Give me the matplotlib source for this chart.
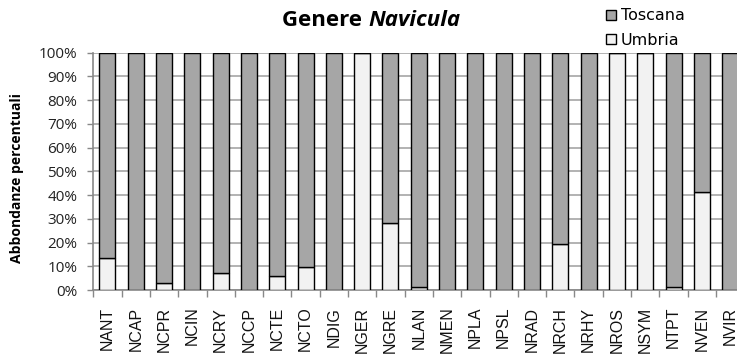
import matplotlib
matplotlib.use("Agg")
import matplotlib.pyplot as plt
import numpy as np

categories = ["NANT", "NCAP", "NCPR", "NCIN", "NCRY", "NCCP", "NCTE", "NCTO", "NDIG",
              "NGER", "NGRE", "NLAN", "NMEN", "NPLA", "NPSL", "NRAD", "NRCH", "NRHY",
              "NROS", "NSYM", "NTPT", "NVEN", "NVIR"]
umbria = [13.4, 0, 3.1, 0, 7.0, 0, 5.8, 9.8, 0,
          100, 28.4, 1.1, 0, 0, 0, 0, 19.4, 0,
          100, 100, 1.4, 41.4, 0]
toscana = [100 - u for u in umbria]
yticks = [0, 10, 20, 30, 40, 50, 60, 70, 80, 90, 100]
ytick_labels = [f"{t}%" for t in yticks]

W, H = 737, 356
fig = plt.figure(figsize=(W / 100, H / 100), dpi=100)
ax = fig.add_axes([93.3 / W, (H - 290) / H, 651 / W, (290 - 52.7) / H])

x = np.arange(len(categories))
bw = 0.565
b_u = ax.bar(x, umbria, width=bw, color="#F2F2F2", edgecolor="black", linewidth=1.0, zorder=3, label="Umbria")
b_t = ax.bar(x, toscana, bottom=umbria, width=bw, color="#A6A6A6", edgecolor="black", linewidth=1.0, zorder=3, label="Toscana")

ax.set_xlim(-0.5, len(categories) - 0.5)
ax.set_ylim(0, 100)
ax.set_yticks(yticks)
ax.set_yticklabels(ytick_labels, fontsize=11, color="#222222", family="Open Sans")
ax.yaxis.grid(True, color="#A6A6A6", linewidth=1.2, zorder=0)
ax.set_axisbelow(True)

ax.set_xticks(x)
ax.set_xticklabels(categories, rotation=90, fontsize=11.5, color="#111111", family="Liberation Sans")
ax.set_xticks(np.arange(len(categories) + 1) - 0.5, minor=True)
ax.tick_params(axis="x", which="major", length=0, pad=12)
ax.tick_params(axis="x", which="minor", length=5, color="#888888", width=1)
ax.tick_params(axis="y", length=4.5, color="#888888", width=1, pad=7)

for s in ["top", "right"]:
    ax.spines[s].set_visible(False)
ax.spines["left"].set_color("#888888")
ax.spines["bottom"].set_color("#888888")
ax.spines["left"].set_linewidth(1.2)
ax.spines["bottom"].set_linewidth(1.2)

fig.text(17 / W, 1 - 178 / H, "Abbondanze percentuali", rotation=90, ha="center", va="center",
         fontsize=10, fontweight="bold", family="Open Sans")

fig.text(368 / W, 1 - 20 / H, "Genere ", ha="right", va="center", fontsize=16, fontweight="bold", family="Open Sans")
fig.text(368 / W, 1 - 20 / H, "Navicula", ha="left", va="center", fontsize=16, fontweight="bold", style="italic", family="Open Sans")

leg = fig.legend(handles=[b_t, b_u], labels=["Toscana", "Umbria"], loc="upper left",
                 bbox_to_anchor=(592 / W, 1 + 6 / H), frameon=False,
                 handlelength=0.6, handleheight=0.6, handletextpad=0.3, labelspacing=0.6,
                 prop={"family": "DejaVu Sans", "size": 11.5})

fig.savefig("out.png", dpi=100)
